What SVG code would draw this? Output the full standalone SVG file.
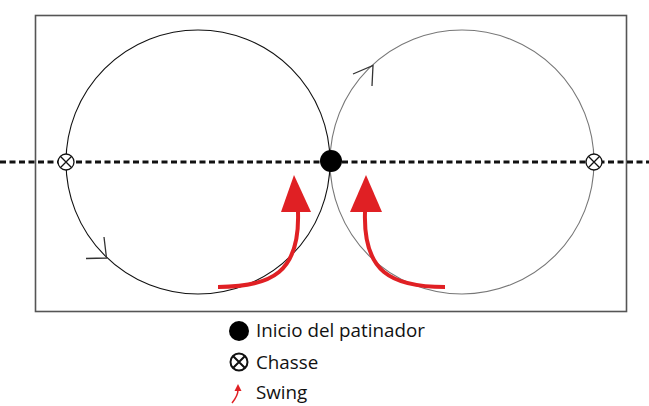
<svg xmlns="http://www.w3.org/2000/svg" width="649" height="406" viewBox="0 0 649 406">
<style>
.txt{font-family:"Open Sans","Liberation Sans",sans-serif;font-size:18.8px;fill:#111}
.swing{fill:none;stroke:#e02024;stroke-width:4;stroke-linecap:butt}
.head{fill:#e02024}
.chasse circle{fill:#fff;stroke:#111;stroke-width:1.3}
.chasse path{stroke:#111;stroke-width:1.3}
</style>
<defs>
<g id="chs" class="chasse"><circle r="8"/><path d="M-5.7,-5.7L5.7,5.7M5.7,-5.7L-5.7,5.7"/></g>
</defs>
<rect id="rink" x="35.5" y="15.5" width="591" height="296" fill="#fff" stroke="#555" stroke-width="1.6"/>
<g id="left-circle"><circle cx="198" cy="162" r="132" fill="none" stroke="#111" stroke-width="1.1"/></g>
<g id="right-circle"><circle cx="462" cy="162" r="132" fill="none" stroke="#777" stroke-width="1.1"/></g>
<g id="connectors">
<line x1="0" y1="162" x2="649" y2="162" stroke="#111" stroke-width="3.2" stroke-dasharray="6,3.5"/>
<path d="M104,237L106.5,258L86,258.5" fill="none" stroke="#333" stroke-width="1.3"/>
<path d="M353,74L373,65.5L372,86" fill="none" stroke="#333" stroke-width="1.3"/>
<path class="swing" d="M218,287C272,287 300,272 298,212"/>
<polygon class="head" points="294,175 281,212 311,212"/>
<path class="swing" d="M445,287C391,287 363,272 365,212"/>
<polygon class="head" points="366,175 350,212 382,212"/>
</g>
<g id="start"><circle cx="331" cy="161" r="11" fill="#000"/></g>
<g id="chasse-left"><use href="#chs" x="66" y="162"/></g>
<g id="chasse-right"><use href="#chs" x="594" y="162"/></g>
<g id="legend">
<circle cx="239" cy="331" r="10" fill="#000"/>
<text class="txt" x="256" y="337">Inicio del patinador</text>
<g transform="translate(239,362)"><circle r="8.5" fill="#fff" stroke="#111" stroke-width="2"/><path d="M-6,-6L6,6M6,-6L-6,6" stroke="#111" stroke-width="2"/></g>
<text class="txt" x="256" y="369">Chasse</text>
<path d="M232,403C236,398 238,395 238,390" fill="none" stroke="#e02024" stroke-width="1.5"/>
<polygon points="238,384 234.5,391 241.5,391" fill="#e02024"/>
<text class="txt" x="256" y="399">Swing</text>
</g>
</svg>
